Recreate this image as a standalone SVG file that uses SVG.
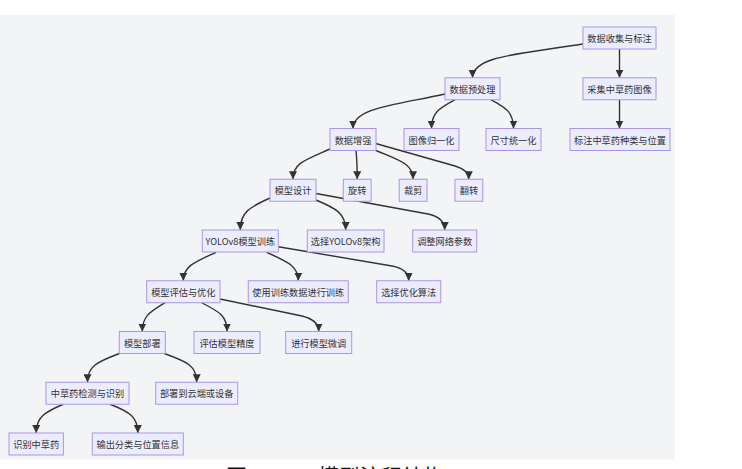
<svg xmlns="http://www.w3.org/2000/svg" width="742" height="469" viewBox="0 0 742 469">
<style>
.bg{fill:#f3f4f6}
.n rect{fill:#ececff;stroke:#a995e8;stroke-width:1}
.n text{font-family:"Noto Sans CJK SC","Noto Sans",sans-serif;font-size:9.2px;fill:#333;text-anchor:middle;dominant-baseline:central}
.e path{fill:none;stroke:#333;stroke-width:1.4;marker-end:url(#arr)}
.cap{font-family:"Noto Sans CJK SC",sans-serif;font-size:21px;fill:#111}
</style>
<defs>
<marker id="arr" viewBox="0 0 10 10" refX="10" refY="5" markerWidth="8" markerHeight="8" markerUnits="userSpaceOnUse" orient="auto">
<path d="M0,0 L10,5 L0,10 z" fill="#333"/>
</marker>
</defs>
<rect class="bg" x="0" y="15" width="675" height="444.5"/>
<g class="e" id="edges">
<path d="M583,44 C520,54 472.5,56 472.5,77.75"/>
<path d="M619.5,49 L619.5,77.75"/>
<path d="M619.5,99.75 L619.5,128.5"/>
<path d="M445,94 C395,105 353,108 353,128.5"/>
<path d="M455,99.75 C440,108 431.5,112 431.5,128.5"/>
<path d="M491,99.75 C506,108 513.5,112 513.5,128.5"/>
<path d="M330,149 C305,160 293,163 293,179.25"/>
<path d="M356,150.5 C357,160 357.2,165 357.2,179.25"/>
<path d="M375,150 C398,160 413,163 413,179.25"/>
<path d="M375.7,143.5 L455,166 Q468.8,170 468.8,179.25"/>
<path d="M270,198 C250,207 240.3,212 240.3,230"/>
<path d="M316,200 C335,208 345.7,213 345.7,230"/>
<path d="M316,193.5 L428,214 Q444.7,217.5 444.7,230"/>
<path d="M216,252.3 C195,262 183.3,266 183.3,280.75"/>
<path d="M266.7,252.3 C288,262 298.3,266 298.3,280.75"/>
<path d="M278.3,246.7 L392,266 Q408.7,269 408.7,280.75"/>
<path d="M165,302.75 C150,312 142.3,316 142.3,331.5"/>
<path d="M201.7,302.75 C220,312 227,316 227,331.5"/>
<path d="M220,299 L302,316 Q318.7,320 318.7,331.5"/>
<path d="M119.3,353.5 C97,362 87.5,366 87.5,382.25"/>
<path d="M164.3,353.5 C188,362 196.7,366 196.7,382.25"/>
<path d="M63.3,404.25 C45,412 36.2,417 36.2,433"/>
<path d="M110,404.25 C130,412 137.8,417 137.8,433"/>
</g>
<g class="n" id="n1"><rect x="583" y="27" width="73" height="22"/><text x="619.5" y="38">数据收集与标注</text></g>
<g class="n" id="n2"><rect x="445" y="77.75" width="55" height="22"/><text x="472.5" y="88.75">数据预处理</text></g>
<g class="n" id="n3"><rect x="583" y="77.75" width="73" height="22"/><text x="619.5" y="88.75">采集中草药图像</text></g>
<g class="n" id="n4"><rect x="330" y="128.5" width="46" height="22"/><text x="353" y="139.5">数据增强</text></g>
<g class="n" id="n5"><rect x="404" y="128.5" width="55" height="22"/><text x="431.5" y="139.5">图像归一化</text></g>
<g class="n" id="n6"><rect x="486" y="128.5" width="55" height="22"/><text x="513.5" y="139.5">尺寸统一化</text></g>
<g class="n" id="n7"><rect x="570" y="128.5" width="100" height="22"/><text x="620" y="139.5">标注中草药种类与位置</text></g>
<g class="n" id="n8"><rect x="270" y="179.25" width="46" height="22"/><text x="293" y="190.25">模型设计</text></g>
<g class="n" id="n9"><rect x="343.3" y="179.25" width="27.8" height="22"/><text x="357.2" y="190.25">旋转</text></g>
<g class="n" id="n10"><rect x="399.2" y="179.25" width="27.8" height="22"/><text x="413.1" y="190.25">裁剪</text></g>
<g class="n" id="n11"><rect x="455" y="179.25" width="27.8" height="22"/><text x="468.9" y="190.25">翻转</text></g>
<g class="n" id="n12"><rect x="202.3" y="230" width="76" height="22"/><text x="240.3" y="241">YOLOv8模型训练</text></g>
<g class="n" id="n13"><rect x="307.3" y="230" width="76.7" height="22"/><text x="345.7" y="241">选择YOLOv8架构</text></g>
<g class="n" id="n14"><rect x="412.7" y="230" width="64" height="22"/><text x="444.7" y="241">调整网络参数</text></g>
<g class="n" id="n15"><rect x="146.7" y="280.75" width="73.3" height="22"/><text x="183.3" y="291.75">模型评估与优化</text></g>
<g class="n" id="n16"><rect x="248.3" y="280.75" width="100" height="22"/><text x="298.3" y="291.75">使用训练数据进行训练</text></g>
<g class="n" id="n17"><rect x="376.7" y="280.75" width="64" height="22"/><text x="408.7" y="291.75">选择优化算法</text></g>
<g class="n" id="n18"><rect x="119.3" y="331.5" width="46" height="22"/><text x="142.3" y="342.5">模型部署</text></g>
<g class="n" id="n19"><rect x="194" y="331.5" width="66" height="22"/><text x="227" y="342.5">评估模型精度</text></g>
<g class="n" id="n20"><rect x="285.7" y="331.5" width="66" height="22"/><text x="318.7" y="342.5">进行模型微调</text></g>
<g class="n" id="n21"><rect x="46" y="382.25" width="83" height="22"/><text x="87.5" y="393.25">中草药检测与识别</text></g>
<g class="n" id="n22"><rect x="155.7" y="382.25" width="82" height="22"/><text x="196.7" y="393.25">部署到云端或设备</text></g>
<g class="n" id="n23"><rect x="9" y="433" width="54.4" height="22"/><text x="36.2" y="444">识别中草药</text></g>
<g class="n" id="n24"><rect x="92.3" y="433" width="91" height="22"/><text x="137.8" y="444">输出分类与位置信息</text></g>
<text class="cap" x="226" y="484">图</text>
<text class="cap" x="318" y="484">模型流程结构</text>
</svg>
